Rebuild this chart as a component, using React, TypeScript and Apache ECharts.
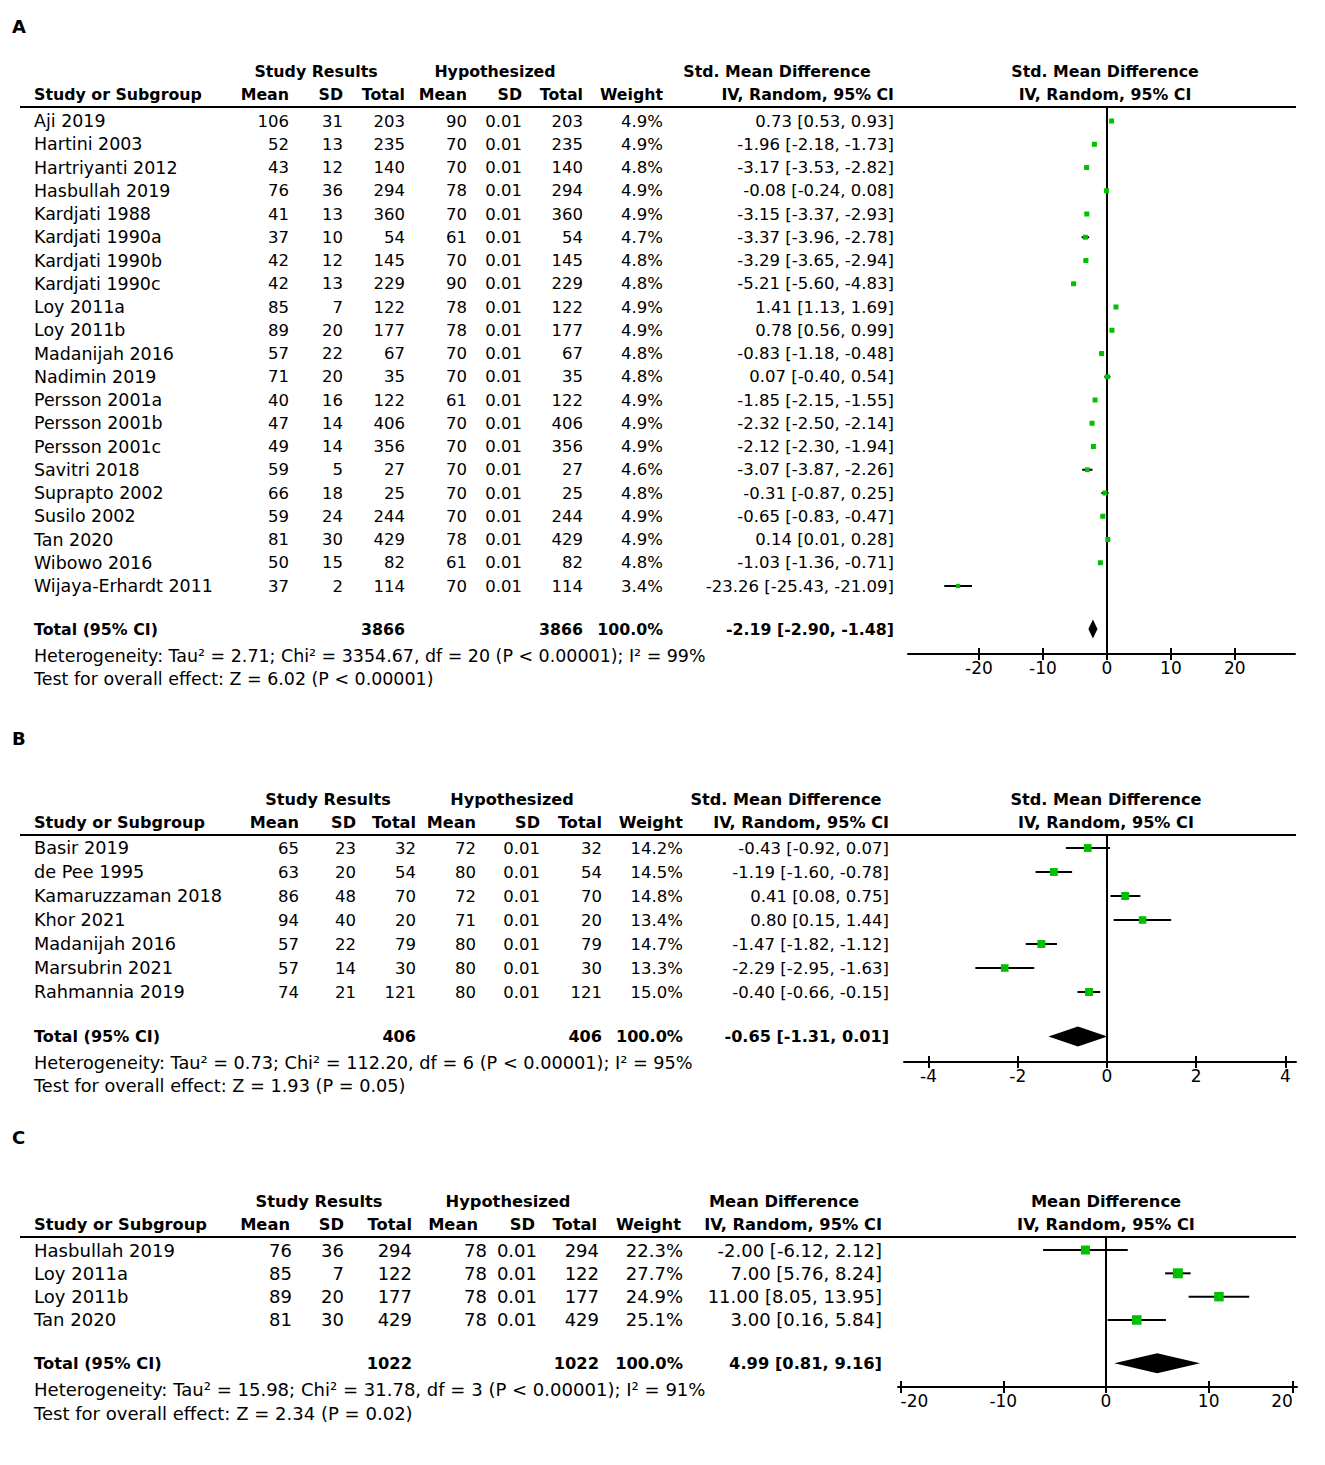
import React, { useEffect, useRef } from 'react';
import * as echarts from 'echarts';

// ---------------- Panel A data ----------------
const aStudies = ['Aji 2019', 'Hartini 2003', 'Hartriyanti 2012', 'Hasbullah 2019', 'Kardjati 1988', 'Kardjati 1990a', 'Kardjati 1990b', 'Kardjati 1990c', 'Loy 2011a', 'Loy 2011b', 'Madanijah 2016', 'Nadimin 2019', 'Persson 2001a', 'Persson 2001b', 'Persson 2001c', 'Savitri 2018', 'Suprapto 2002', 'Susilo 2002', 'Tan 2020', 'Wibowo 2016', 'Wijaya-Erhardt 2011'];
const aMean = [106, 52, 43, 76, 41, 37, 42, 42, 85, 89, 57, 71, 40, 47, 49, 59, 66, 59, 81, 50, 37];
const aSD = [31, 13, 12, 36, 13, 10, 12, 13, 7, 20, 22, 20, 16, 14, 14, 5, 18, 24, 30, 15, 2];
const aN = [203, 235, 140, 294, 360, 54, 145, 229, 122, 177, 67, 35, 122, 406, 356, 27, 25, 244, 429, 82, 114];
const aHypMean = [90, 70, 70, 78, 70, 61, 70, 90, 78, 78, 70, 70, 61, 70, 70, 70, 70, 70, 78, 61, 70];
const aHypSD = [0.01, 0.01, 0.01, 0.01, 0.01, 0.01, 0.01, 0.01, 0.01, 0.01, 0.01, 0.01, 0.01, 0.01, 0.01, 0.01, 0.01, 0.01, 0.01, 0.01, 0.01];
const aHypN = [203, 235, 140, 294, 360, 54, 145, 229, 122, 177, 67, 35, 122, 406, 356, 27, 25, 244, 429, 82, 114];
const aWeight = [4.9, 4.9, 4.8, 4.9, 4.9, 4.7, 4.8, 4.8, 4.9, 4.9, 4.8, 4.8, 4.9, 4.9, 4.9, 4.6, 4.8, 4.9, 4.9, 4.8, 3.4];
const aEst = [0.73, -1.96, -3.17, -0.08, -3.15, -3.37, -3.29, -5.21, 1.41, 0.78, -0.83, 0.07, -1.85, -2.32, -2.12, -3.07, -0.31, -0.65, 0.14, -1.03, -23.26];
const aLo = [0.53, -2.18, -3.53, -0.24, -3.37, -3.96, -3.65, -5.60, 1.13, 0.56, -1.18, -0.40, -2.15, -2.50, -2.30, -3.87, -0.87, -0.83, 0.01, -1.36, -25.43];
const aHi = [0.93, -1.73, -2.82, 0.08, -2.93, -2.78, -2.94, -4.83, 1.69, 0.99, -0.48, 0.54, -1.55, -2.14, -1.94, -2.26, 0.25, -0.47, 0.28, -0.71, -21.09];
const aTotals = [3866, 3866];
const aPooled = [-2.19, -2.90, -1.48];
const aNotes = ['Heterogeneity: Tau² = 2.71; Chi² = 3354.67, df = 20 (P < 0.00001); I² = 99%', 'Test for overall effect: Z = 6.02 (P < 0.00001)'];
const aTickValues = [-20, -10, 0, 10, 20];
const aTickLabels = ['-20', '-10', '0', '10', '20'];

// ---------------- Panel B data ----------------
const bStudies = ['Basir 2019', 'de Pee 1995', 'Kamaruzzaman 2018', 'Khor 2021', 'Madanijah 2016', 'Marsubrin 2021', 'Rahmannia 2019'];
const bMean = [65, 63, 86, 94, 57, 57, 74];
const bSD = [23, 20, 48, 40, 22, 14, 21];
const bN = [32, 54, 70, 20, 79, 30, 121];
const bHypMean = [72, 80, 72, 71, 80, 80, 80];
const bHypSD = [0.01, 0.01, 0.01, 0.01, 0.01, 0.01, 0.01];
const bHypN = [32, 54, 70, 20, 79, 30, 121];
const bWeight = [14.2, 14.5, 14.8, 13.4, 14.7, 13.3, 15.0];
const bEst = [-0.43, -1.19, 0.41, 0.80, -1.47, -2.29, -0.40];
const bLo = [-0.92, -1.60, 0.08, 0.15, -1.82, -2.95, -0.66];
const bHi = [0.07, -0.78, 0.75, 1.44, -1.12, -1.63, -0.15];
const bTotals = [406, 406];
const bPooled = [-0.65, -1.31, 0.01];
const bNotes = ['Heterogeneity: Tau² = 0.73; Chi² = 112.20, df = 6 (P < 0.00001); I² = 95%', 'Test for overall effect: Z = 1.93 (P = 0.05)'];
const bTickValues = [-4, -2, 0, 2, 4];
const bTickLabels = ['-4', '-2', '0', '2', '4'];

// ---------------- Panel C data ----------------
const cStudies = ['Hasbullah 2019', 'Loy 2011a', 'Loy 2011b', 'Tan 2020'];
const cMean = [76, 85, 89, 81];
const cSD = [36, 7, 20, 30];
const cN = [294, 122, 177, 429];
const cHypMean = [78, 78, 78, 78];
const cHypSD = [0.01, 0.01, 0.01, 0.01];
const cHypN = [294, 122, 177, 429];
const cWeight = [22.3, 27.7, 24.9, 25.1];
const cEst = [-2.0, 7.0, 11.0, 3.0];
const cLo = [-6.12, 5.76, 8.05, 0.16];
const cHi = [2.12, 8.24, 13.95, 5.84];
const cTotals = [1022, 1022];
const cPooled = [4.99, 0.81, 9.16];
const cNotes = ['Heterogeneity: Tau² = 15.98; Chi² = 31.78, df = 3 (P < 0.00001); I² = 91%', 'Test for overall effect: Z = 2.34 (P = 0.02)'];
// the reference's right-most tick sits short of a true 20
const cTickValues = [-20, -10, 0, 10, 18.2];
const cTickLabels = ['-20', '-10', '0', '10', '20'];

// ---------------- layout & style ----------------
const FONT = '"DejaVu Sans", Verdana, sans-serif';
const GREEN = '#00c000';
const TOTAL_GAP = 1.85;

const panels = [
  {
    letter: 'A', effect: 'Std. Mean Difference',
    studies: aStudies, mean: aMean, sd: aSD, n: aN, hMean: aHypMean, hSD: aHypSD, hN: aHypN,
    weight: aWeight, est: aEst, lo: aLo, hi: aHi, totals: aTotals, pooled: aPooled, notes: aNotes,
    ticks: aTickValues, tickLabels: aTickLabels,
    L: { letterY: 26, sepY: 107, row0: 121, step: 23.25, axisY: 654, left: 908, right: 1295, xMin: -31.1, xMax: 29.4, box: 5, diamondH: 19,
      nameSize: 17.45, numSize: 16.5, boldSize: 15.8,
      cols: [289, 343, 405, 467, 522, 583, 663, 894], hcols: [289, 343, 405, 467, 522, 583, 663, 894],
      srC: 316, hypC: 495, effC: 777, plotC: 1105, alignEdges: false },
  },
  {
    letter: 'B', effect: 'Std. Mean Difference',
    studies: bStudies, mean: bMean, sd: bSD, n: bN, hMean: bHypMean, hSD: bHypSD, hN: bHypN,
    weight: bWeight, est: bEst, lo: bLo, hi: bHi, totals: bTotals, pooled: bPooled, notes: bNotes,
    ticks: bTickValues, tickLabels: bTickLabels,
    L: { letterY: 738, sepY: 835, row0: 848, step: 24, axisY: 1062, left: 904, right: 1296, xMin: -4.55, xMax: 4.24, box: 8, diamondH: 20,
      nameSize: 17.7, numSize: 16.5, boldSize: 16.1,
      cols: [299, 356, 416, 476, 540, 602, 683, 889], hcols: [299, 356, 416, 476, 540, 602, 683, 889],
      srC: 328, hypC: 512, effC: 786, plotC: 1106, alignEdges: false },
  },
  {
    letter: 'C', effect: 'Mean Difference',
    studies: cStudies, mean: cMean, sd: cSD, n: cN, hMean: cHypMean, hSD: cHypSD, hN: cHypN,
    weight: cWeight, est: cEst, lo: cLo, hi: cHi, totals: cTotals, pooled: cPooled, notes: cNotes,
    ticks: cTickValues, tickLabels: cTickLabels,
    L: { letterY: 1137, sepY: 1237, row0: 1250, step: 23.33, axisY: 1387, left: 898, right: 1297, xMin: -20.25, xMax: 18.6, box: 10, diamondH: 20,
      nameSize: 18.05, numSize: 18, boldSize: 16.3,
      cols: [292, 344, 412, 487, 537, 599, 683, 882], hcols: [290, 344, 412, 478, 535, 597, 681, 882],
      srC: 319, hypC: 508, effC: 784, plotC: 1106, alignEdges: true },
  },
];

const f2 = (v: number) => v.toFixed(2);
const ci = (e: number, l: number, h: number) => `${f2(e)} [${f2(l)}, ${f2(h)}]`;

function txt(text: string, x: number, y: number, align: string, size: number, bold = false) {
  return {
    type: 'text', silent: true, x, y,
    style: {
      text, fill: '#000', fontFamily: FONT, fontSize: size, fontWeight: bold ? 'bold' : 'normal',
      textAlign: align, textVerticalAlign: 'middle', align, verticalAlign: 'middle',
    },
  };
}

function buildOption() {
  const graphic: any[] = [];
  const grid: any[] = [];
  const xAxis: any[] = [];
  const yAxis: any[] = [];
  const series: any[] = [];

  panels.forEach((p, pi) => {
    const L = p.L;
    const rowY = (i: number) => L.row0 + i * L.step;
    const nRows = p.studies.length;
    const totalIdx = nRows - 1 + TOTAL_GAP;
    const totalY = rowY(totalIdx);
    const h1 = L.sepY - 36;
    const h2 = L.sepY - 12.5;
    const c = L.cols;
    const hc = L.hcols;
    const B = L.boldSize;

    // panel letter
    graphic.push(txt(p.letter, 12, L.letterY, 'left', 18, true));
    // headers
    graphic.push(txt('Study Results', L.srC, h1, 'center', B, true));
    graphic.push(txt('Hypothesized', L.hypC, h1, 'center', B, true));
    graphic.push(txt(p.effect, L.effC, h1, 'center', B, true));
    graphic.push(txt(p.effect, L.plotC, h1, 'center', B, true));
    graphic.push(txt('Study or Subgroup', 34, h2, 'left', B, true));
    ['Mean', 'SD', 'Total', 'Mean', 'SD', 'Total', 'Weight', 'IV, Random, 95% CI'].forEach((h, k) => {
      graphic.push(txt(h, hc[k], h2, 'right', B, true));
    });
    graphic.push(txt('IV, Random, 95% CI', L.plotC, h2, 'center', B, true));
    // separator line under header
    graphic.push({ type: 'line', silent: true, shape: { x1: 20, y1: L.sepY, x2: 1296, y2: L.sepY }, style: { stroke: '#000', lineWidth: 2 } });

    // study rows
    p.studies.forEach((s, i) => {
      const y = rowY(i);
      graphic.push(txt(s, 34, y, 'left', L.nameSize));
      const cells = [String(p.mean[i]), String(p.sd[i]), String(p.n[i]), String(p.hMean[i]), f2(p.hSD[i]), String(p.hN[i]), `${p.weight[i].toFixed(1)}%`, ci(p.est[i], p.lo[i], p.hi[i])];
      cells.forEach((v, k) => graphic.push(txt(v, c[k], y, 'right', L.numSize)));
    });

    // total row
    graphic.push(txt('Total (95% CI)', 34, totalY, 'left', B, true));
    graphic.push(txt(String(p.totals[0]), c[2], totalY, 'right', B, true));
    graphic.push(txt(String(p.totals[1]), c[5], totalY, 'right', B, true));
    graphic.push(txt('100.0%', c[6], totalY, 'right', B, true));
    graphic.push(txt(ci(p.pooled[0], p.pooled[1], p.pooled[2]), c[7], totalY, 'right', B, true));
    graphic.push(txt(p.notes[0], 34, totalY + 26.5, 'left', L.nameSize));
    graphic.push(txt(p.notes[1], 34, totalY + 50, 'left', L.nameSize));

    // forest plot grid
    grid.push({ left: L.left, top: L.sepY, width: L.right - L.left, height: L.axisY - L.sepY, containLabel: false });
    const tickIdx = (v: number) => p.ticks.indexOf(v);
    xAxis.push({
      type: 'value', gridIndex: pi, position: 'bottom', min: L.xMin, max: L.xMax,
      axisLine: { show: true, onZero: false, lineStyle: { color: '#000', width: 2 } },
      axisTick: { show: true, inside: false, length: 6, customValues: p.ticks, lineStyle: { color: '#000', width: 2 } },
      axisLabel: {
        show: true, customValues: p.ticks, margin: 5, color: '#000', fontFamily: FONT, fontSize: 17,
        formatter: (v: number) => { const k = tickIdx(v); return k >= 0 ? p.tickLabels[k] : ''; },
        alignMinLabel: L.alignEdges ? 'left' : undefined, alignMaxLabel: L.alignEdges ? 'right' : undefined,
      },
      splitLine: { show: false },
    });
    xAxis.push({
      type: 'value', gridIndex: pi, position: 'bottom', min: L.xMin, max: L.xMax,
      axisLine: { show: false, onZero: false },
      axisTick: { show: true, inside: true, length: 6, customValues: p.ticks, lineStyle: { color: '#000', width: 2 } },
      axisLabel: { show: false },
      splitLine: { show: false },
    });
    yAxis.push({
      type: 'value', gridIndex: pi, inverse: true,
      min: (L.sepY - L.row0) / L.step, max: (L.axisY - L.row0) / L.step,
      axisLine: { show: true, onZero: true, lineStyle: { color: '#000', width: 2 } },
      axisTick: { show: false }, axisLabel: { show: false }, splitLine: { show: false },
    });

    const wMax = Math.max(...p.weight);
    series.push({
      type: 'custom', xAxisIndex: pi * 2, yAxisIndex: pi, silent: true,
      encode: { x: [0, 1, 2], y: 3 },
      data: p.studies.map((_, i) => [p.lo[i], p.hi[i], p.est[i], i, p.weight[i]]),
      renderItem: (_params: any, api: any) => {
        const row = api.value(3);
        const a = api.coord([api.value(0), row]);
        const b = api.coord([api.value(1), row]);
        const e = api.coord([api.value(2), row]);
        const s = L.box * Math.sqrt(api.value(4) / wMax);
        return {
          type: 'group',
          children: [
            { type: 'line', shape: { x1: a[0], y1: a[1], x2: b[0], y2: b[1] }, style: { stroke: '#000', lineWidth: 2 } },
            { type: 'rect', shape: { x: e[0] - s / 2, y: e[1] - s / 2, width: s, height: s }, style: { fill: GREEN } },
          ],
        };
      },
    });
    series.push({
      type: 'custom', xAxisIndex: pi * 2, yAxisIndex: pi, silent: true,
      encode: { x: [0, 1, 2], y: 3 },
      data: [[p.pooled[1], p.pooled[2], p.pooled[0], totalIdx]],
      renderItem: (_params: any, api: any) => {
        const row = api.value(3);
        const a = api.coord([api.value(0), row]);
        const b = api.coord([api.value(1), row]);
        const e = api.coord([api.value(2), row]);
        const h = L.diamondH / 2;
        return {
          type: 'polygon',
          shape: { points: [[a[0], a[1]], [e[0], e[1] - h], [b[0], b[1]], [e[0], e[1] + h]] },
          style: { fill: '#000' },
        };
      },
    });
  });

  return { animation: false, backgroundColor: '#fff', grid, xAxis, yAxis, series, graphic };
}

export default function App() {
  const ref = useRef<HTMLDivElement>(null);
  useEffect(() => {
    const chart = echarts.init(ref.current as HTMLDivElement, undefined, { renderer: 'svg' });
    chart.setOption(buildOption() as any);
    return () => chart.dispose();
  }, []);
  return <div ref={ref} style={{ position: 'absolute', left: 0, top: 0, width: 1325, height: 1465, background: '#fff' }} />;
}
